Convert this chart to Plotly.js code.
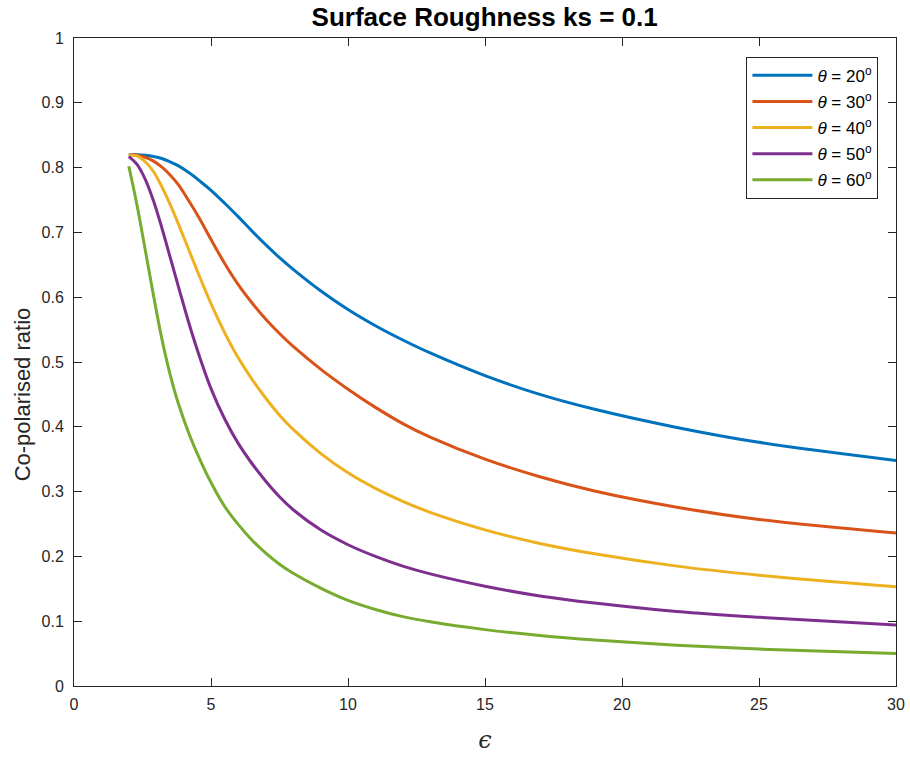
<!DOCTYPE html>
<html>
<head>
<meta charset="utf-8">
<script src="https://cdn.plot.ly/plotly-3.0.1.min.js"></script>
<style>
  html, body { margin: 0; padding: 0; background: #ffffff; }
  #chart { width: 910px; height: 764px; }
</style>
</head>
<body>
<div id="chart"></div>
<script>
// Permittivity values (x axis)
const epsilon = [2, 2.3, 2.6, 2.9, 3.2, 3.5, 3.8, 4.2, 4.6, 5, 5.5, 6, 6.5, 7, 7.5, 8, 9, 10, 11, 12, 13, 15, 17, 19, 22, 25, 30];

// Co-polarised ratio per incidence angle
const theta20 = [0.820, 0.820, 0.819, 0.817, 0.814, 0.809, 0.803, 0.792, 0.779, 0.765, 0.745, 0.724, 0.702, 0.681, 0.661, 0.643, 0.610, 0.581, 0.556, 0.534, 0.514, 0.479, 0.450, 0.427, 0.399, 0.376, 0.348];
const theta30 = [0.820, 0.819, 0.816, 0.810, 0.801, 0.789, 0.774, 0.748, 0.720, 0.689, 0.652, 0.619, 0.591, 0.566, 0.544, 0.524, 0.489, 0.458, 0.430, 0.405, 0.384, 0.350, 0.323, 0.301, 0.276, 0.257, 0.236];
const theta40 = [0.820, 0.818, 0.809, 0.794, 0.771, 0.744, 0.714, 0.672, 0.630, 0.590, 0.545, 0.506, 0.473, 0.444, 0.418, 0.396, 0.359, 0.329, 0.305, 0.285, 0.268, 0.241, 0.220, 0.204, 0.185, 0.171, 0.153];
const theta50 = [0.817, 0.805, 0.782, 0.749, 0.708, 0.663, 0.618, 0.559, 0.506, 0.459, 0.412, 0.374, 0.343, 0.316, 0.292, 0.272, 0.241, 0.218, 0.200, 0.185, 0.173, 0.154, 0.139, 0.128, 0.115, 0.106, 0.094];
const theta60 = [0.802, 0.742, 0.673, 0.603, 0.537, 0.482, 0.437, 0.389, 0.349, 0.314, 0.277, 0.249, 0.225, 0.205, 0.188, 0.174, 0.151, 0.132, 0.118, 0.107, 0.099, 0.087, 0.078, 0.071, 0.063, 0.057, 0.050];

const seriesNames = ['<i>θ</i> = 20<sup>o</sup>', '<i>θ</i> = 30<sup>o</sup>', '<i>θ</i> = 40<sup>o</sup>', '<i>θ</i> = 50<sup>o</sup>', '<i>θ</i> = 60<sup>o</sup>'];
const seriesColors = ['#0072BD', '#D95319', '#EDB120', '#7E2F8E', '#77AC30'];
const seriesValues = [theta20, theta30, theta40, theta50, theta60];

const xTicks = [0, 5, 10, 15, 20, 25, 30];
const yTicks = [0, 0.1, 0.2, 0.3, 0.4, 0.5, 0.6, 0.7, 0.8, 0.9, 1];
const yTickText = ['0', '0.1', '0.2', '0.3', '0.4', '0.5', '0.6', '0.7', '0.8', '0.9', '1'];

const traces = seriesValues.map((vals, i) => ({
  x: epsilon,
  y: vals,
  type: 'scatter',
  mode: 'lines',
  name: seriesNames[i],
  legendgroup: 'g' + i,
  line: { color: seriesColors[i], width: 3, shape: 'spline', smoothing: 1 }
}));

const axisCommon = {
  showgrid: false,
  zeroline: false,
  showline: true,
  linecolor: '#262626',
  linewidth: 1,
  mirror: 'ticks',
  ticks: 'inside',
  ticklen: 8,
  tickwidth: 1,
  tickcolor: '#262626',
  tickfont: { family: 'Liberation Sans, Arial, sans-serif', size: 16, color: '#262626' }
};

const layout = {
  width: 910,
  height: 764,
  paper_bgcolor: '#ffffff',
  plot_bgcolor: '#ffffff',
  margin: { l: 74, r: 14, t: 38, b: 78 },
  showlegend: true,
  title: {
    text: '<b>Surface Roughness ks = 0.1</b>',
    x: 0.5326, xanchor: 'center',
    y: 0.978, yanchor: 'middle',
    font: { family: 'Liberation Sans, Arial, sans-serif', size: 26, color: '#000000' }
  },
  xaxis: Object.assign({}, axisCommon, {
    range: [0, 30],
    tickvals: xTicks,
    ticktext: xTicks.map(String),
    ticklabelstandoff: 4,
    title: { text: '<i>ϵ</i>', font: { family: 'DejaVu Serif, serif', size: 24, color: '#262626' }, standoff: 18 }
  }),
  yaxis: Object.assign({}, axisCommon, {
    range: [0, 1],
    tickvals: yTicks,
    ticktext: yTickText,
    ticklabelstandoff: 6
  }),
  annotations: [{
    text: 'Co-polarised ratio',
    xref: 'paper', yref: 'paper',
    x: -0.0633, y: 0.45,
    xanchor: 'center', yanchor: 'middle',
    textangle: -90,
    showarrow: false,
    font: { family: 'Liberation Sans, Arial, sans-serif', size: 22, color: '#262626' }
  }],
  legend: {
    x: 0.9786, xanchor: 'right',
    y: 0.971, yanchor: 'top',
    bgcolor: '#ffffff',
    bordercolor: '#262626',
    borderwidth: 1,
    traceorder: 'grouped',
    tracegroupgap: 1,
    itemwidth: 60,
    font: { family: 'Liberation Sans, Arial, sans-serif', size: 17, color: '#000000' }
  }
};

Plotly.newPlot('chart', traces, layout, { displayModeBar: false, staticPlot: true });
</script>
</body>
</html>
